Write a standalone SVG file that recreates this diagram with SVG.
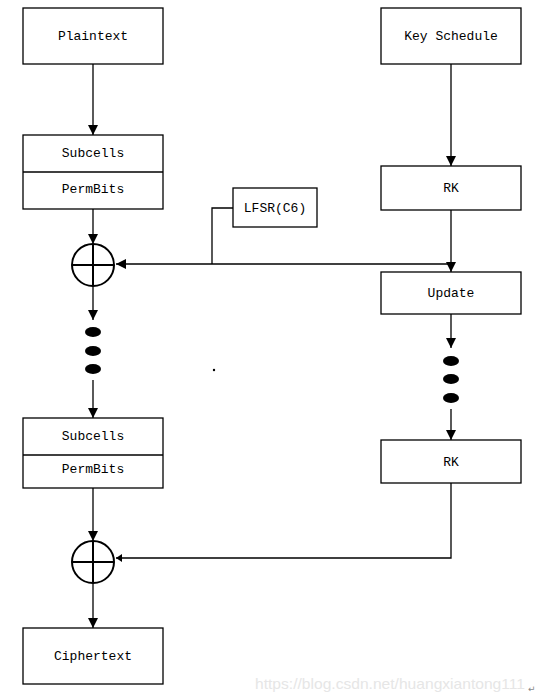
<svg xmlns="http://www.w3.org/2000/svg" width="539" height="700" viewBox="0 0 539 700">
<defs>
<style>
.box{fill:#fff;stroke:#000;stroke-width:1.3}
.t{font-family:"Liberation Mono","DejaVu Sans Mono",monospace;font-size:13px;fill:#000;text-anchor:middle;dominant-baseline:central}
.c{fill:none;stroke:#000;stroke-width:1.3}
.x{fill:none;stroke:#000;stroke-width:2}
.dot{fill:#000}
</style>
<marker id="ah" markerWidth="10" markerHeight="10" refX="10" refY="5" orient="auto" markerUnits="userSpaceOnUse">
<path d="M0,0 L10,5 L0,10 Z" fill="#000"/>
</marker>
<marker id="ahs" markerWidth="6" markerHeight="8" refX="6" refY="4" orient="auto" markerUnits="userSpaceOnUse">
<path d="M0,0 L6,4 L0,8 Z" fill="#000"/>
</marker>
</defs>
<rect width="539" height="700" fill="#fff"/>

<g id="connectors">
<line class="c" x1="93" y1="64" x2="93" y2="135" marker-end="url(#ah)"/>
<line class="c" x1="93" y1="209" x2="93" y2="244" marker-end="url(#ah)"/>
<line class="c" x1="451" y1="64" x2="451" y2="166" marker-end="url(#ah)"/>
<line class="c" x1="451" y1="210" x2="451" y2="272" marker-end="url(#ah)"/>
<line class="c" x1="451" y1="264" x2="116" y2="264" marker-end="url(#ah)"/>
<polyline class="c" points="233,208 212,208 212,264"/>
<line class="c" x1="451" y1="314" x2="451" y2="348" marker-end="url(#ah)"/>
<line class="c" x1="451" y1="409" x2="451" y2="440" marker-end="url(#ah)"/>
<line class="c" x1="93" y1="286" x2="93" y2="320" marker-end="url(#ah)"/>
<line class="c" x1="93" y1="380" x2="93" y2="418" marker-end="url(#ah)"/>
<line class="c" x1="93" y1="488" x2="93" y2="541" marker-end="url(#ah)"/>
<polyline class="c" points="451,483 451,558 116,558" marker-end="url(#ahs)"/>
<line class="c" x1="93" y1="583" x2="93" y2="628" marker-end="url(#ah)"/>
</g>

<g id="plaintext"><rect class="box" x="23" y="8" width="140" height="56"/><text class="t" x="93" y="36">Plaintext</text></g>
<g id="round1"><rect class="box" x="23" y="135" width="140" height="74"/><line class="c" x1="23" y1="172" x2="163" y2="172"/><text class="t" x="93" y="153">Subcells</text><text class="t" x="93" y="189">PermBits</text></g>
<g id="xor1"><circle class="x" cx="93" cy="265" r="21"/><line class="x" x1="72" y1="265" x2="114" y2="265"/><line class="x" x1="93" y1="244" x2="93" y2="286"/></g>
<g id="lfsr"><rect class="box" x="233" y="188" width="84" height="39"/><text class="t" x="275" y="208">LFSR(C6)</text></g>
<g id="keyschedule"><rect class="box" x="381" y="8" width="140" height="56"/><text class="t" x="451" y="36">Key Schedule</text></g>
<g id="rk1"><rect class="box" x="381" y="166" width="140" height="44"/><text class="t" x="451" y="188">RK</text></g>
<g id="update"><rect class="box" x="381" y="272" width="140" height="42"/><text class="t" x="451" y="293">Update</text></g>
<g id="dotsright"><ellipse class="dot" cx="451" cy="361" rx="8" ry="5"/><ellipse class="dot" cx="451" cy="379" rx="8" ry="5"/><ellipse class="dot" cx="451" cy="398" rx="8" ry="5"/></g>
<g id="dotsleft"><ellipse class="dot" cx="93" cy="332" rx="8" ry="5"/><ellipse class="dot" cx="93" cy="351" rx="8" ry="5"/><ellipse class="dot" cx="93" cy="369" rx="8" ry="5"/></g>
<circle class="dot" cx="214" cy="370" r="1.2"/>
<g id="rk2"><rect class="box" x="381" y="440" width="140" height="43"/><text class="t" x="451" y="462">RK</text></g>
<g id="round2"><rect class="box" x="23" y="418" width="140" height="70"/><line class="c" x1="23" y1="455" x2="163" y2="455"/><text class="t" x="93" y="436">Subcells</text><text class="t" x="93" y="469">PermBits</text></g>
<g id="xor2"><circle class="x" cx="93" cy="562" r="21"/><line class="x" x1="72" y1="562" x2="114" y2="562"/><line class="x" x1="93" y1="541" x2="93" y2="583"/></g>
<g id="ciphertext"><rect class="box" x="23" y="628" width="140" height="56"/><text class="t" x="93" y="656">Ciphertext</text></g>
<text x="255" y="689" font-family="Liberation Sans,Arial,sans-serif" font-size="15" textLength="270" lengthAdjust="spacingAndGlyphs" fill="#e6e6e6">https://blog.csdn.net/huangxiantong111</text>
<text x="528" y="692" font-family="DejaVu Sans,sans-serif" font-size="9" fill="#888">↵</text>
</svg>
